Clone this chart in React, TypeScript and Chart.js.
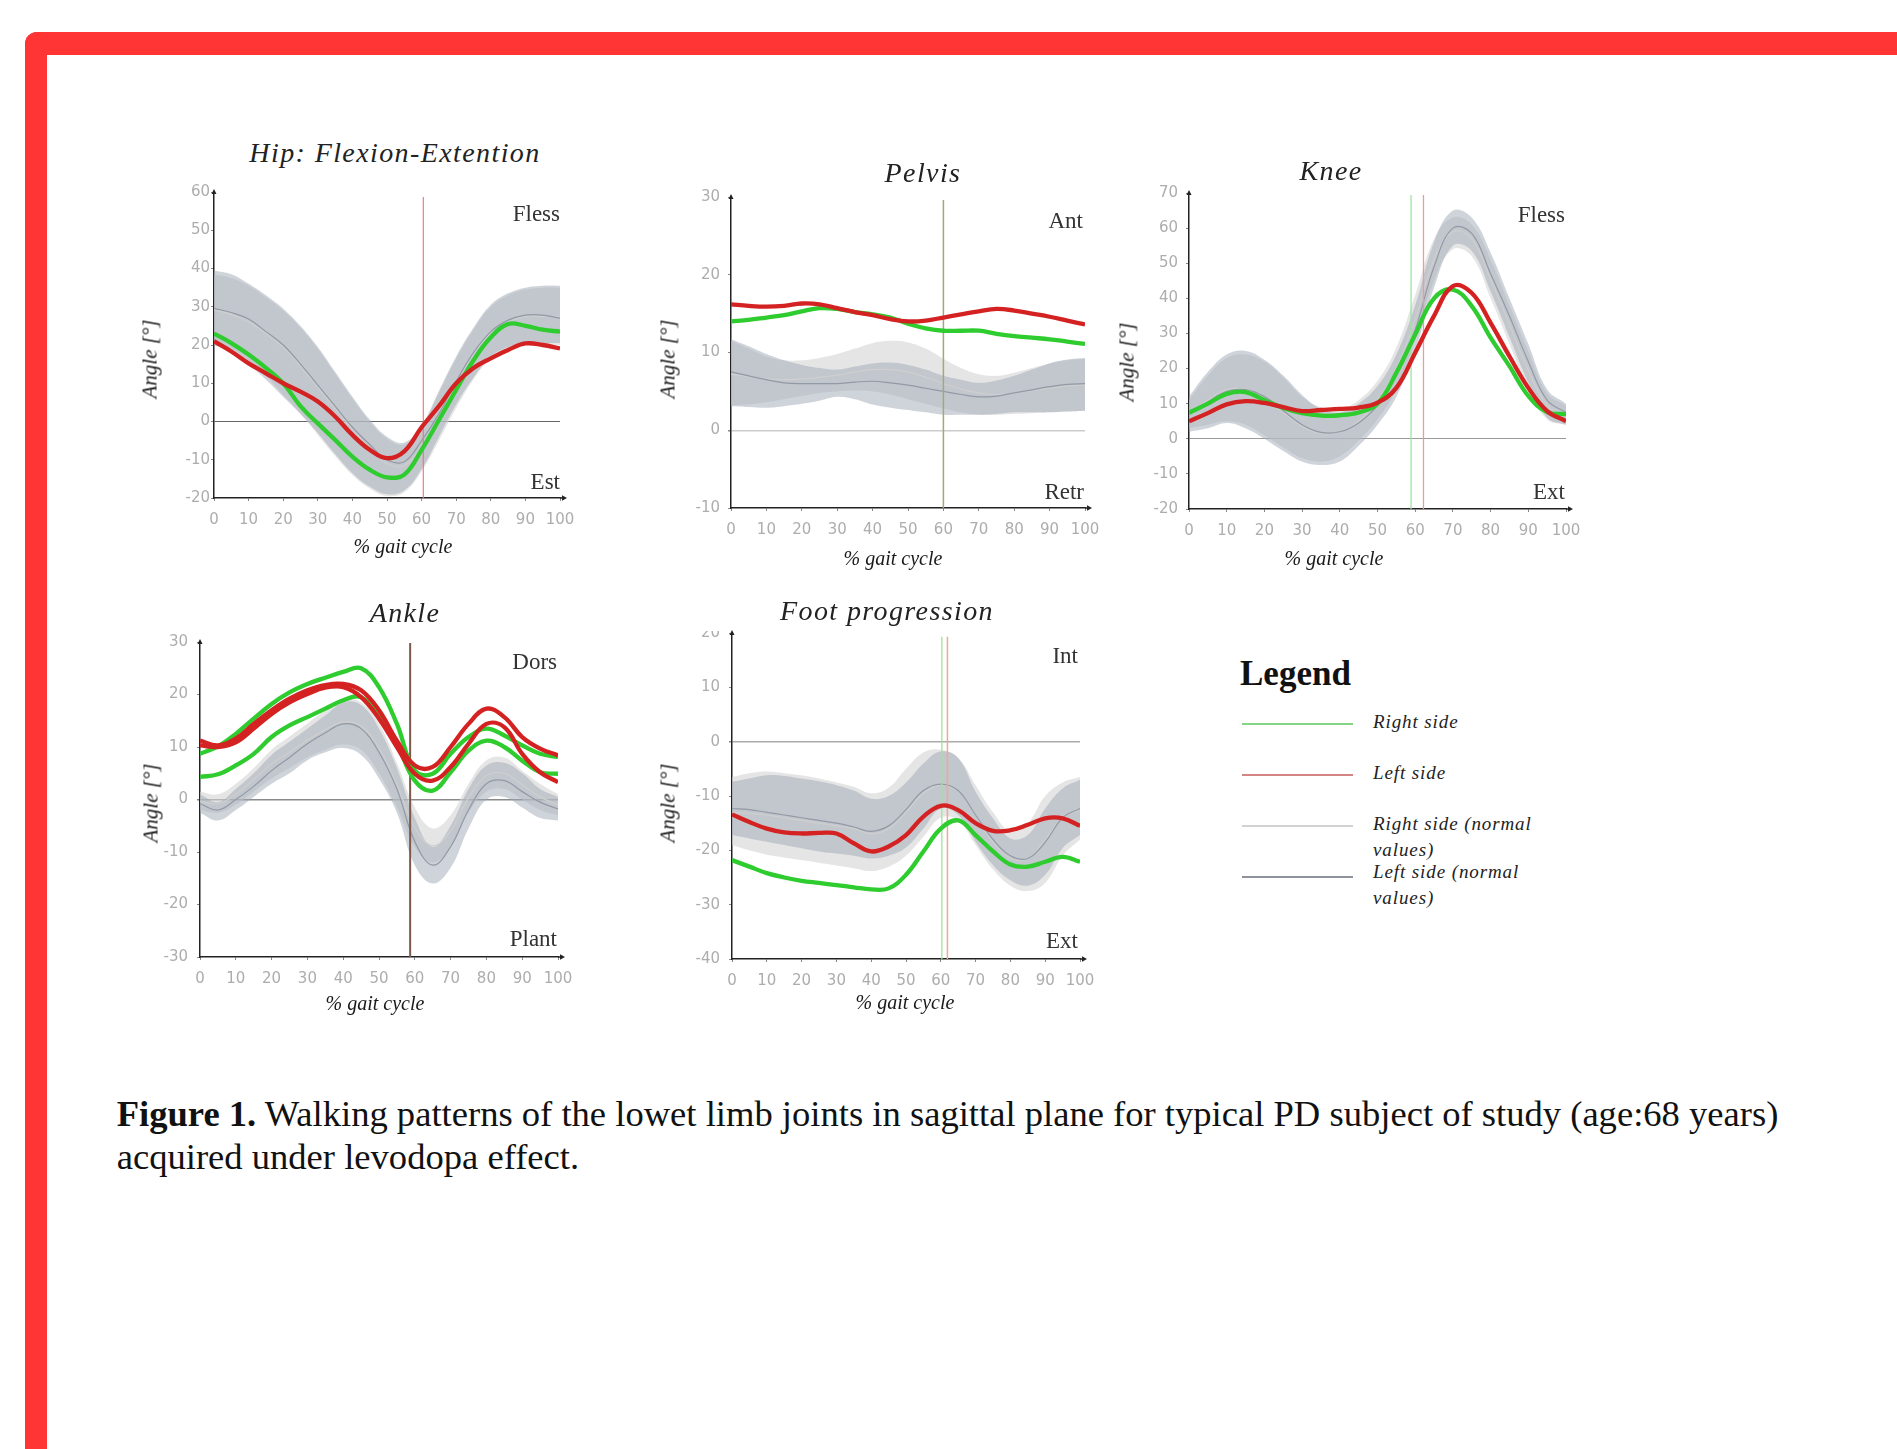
import React, { useEffect, useRef } from "react";
import { Chart, registerables } from "chart.js";

Chart.register(...registerables);

// ---------- shared axis data ----------
const GAIT_PCT = [0, 5, 10, 15, 20, 25, 30, 35, 40, 45, 50, 55, 60, 65, 70, 75, 80, 85, 90, 95, 100];
const X_RANGE = [0, 100];
const X_TICK_STEP = 10;
const Y_TICK_STEP = 10;

// ---------- Hip ----------
const HIP_Y_RANGE = [-20, 60];
const HIP_RIGHT = [23, 20.5, 17.5, 14, 10, 4, -0.5, -4.8, -9.2, -12.6, -14.6, -13.9, -7.4, 0.4, 8.3, 16, 22, 25.5, 25, 24, 23.5];
const HIP_LEFT = [21, 18.3, 15.2, 12.6, 10, 7.8, 5.2, 1.3, -3.5, -7.4, -9.6, -7.8, -1.5, 4, 10, 14, 16.5, 18.7, 20.4, 20, 19.1];
const HIP_NORM_LEFT_MEAN = [29.6, 28.5, 26.8, 23.5, 20, 15, 9.5, 4, -1.5, -6, -10, -10.5, -5, 2, 10.5, 18, 23.5, 26.5, 27.8, 27.8, 27];
const HIP_NORM_LEFT_UPPER = [39.5, 38.5, 36, 33, 29.5, 25, 19.5, 13, 6.5, 0.5, -4, -5.5, -1, 8, 17, 24.5, 30.5, 33.5, 35, 35.5, 35.5];
const HIP_NORM_LEFT_LOWER = [20, 18, 15, 11, 6.5, 2, -3, -8.5, -13.5, -17, -19, -18, -12.5, -4, 4.5, 11.5, 17, 19.5, 20.5, 20.5, 20.5];
const HIP_NORM_RIGHT_MEAN = [29.2, 28, 26, 23, 19.5, 14.5, 9, 3.5, -2, -7, -11, -11.5, -6.5, 1.5, 10, 17.5, 23, 26, 27.5, 27.5, 27.5];
const HIP_NORM_RIGHT_UPPER = [38.5, 37.5, 35.5, 32.5, 29, 24.5, 19, 12.5, 6, 0, -4.5, -6, -1.5, 7.5, 16.5, 24, 30, 33, 34.5, 35, 35];
const HIP_NORM_RIGHT_LOWER = [21, 19, 16, 12, 7, 2, -3.5, -9, -14, -17.5, -19.5, -18.5, -13, -5, 3.5, 11, 16.5, 19, 20, 20, 20];
const HIP_TOE_OFF = [60.5];

// ---------- Pelvis ----------
const PELVIS_Y_RANGE = [-10, 30];
const PELVIS_RIGHT = [14, 14.2, 14.5, 14.8, 15.3, 15.7, 15.6, 15.2, 14.9, 14.5, 13.7, 13.1, 12.8, 12.8, 12.8, 12.4, 12.1, 11.9, 11.7, 11.4, 11.1];
const PELVIS_LEFT = [16.2, 16, 15.9, 16, 16.3, 16.2, 15.7, 15.2, 14.8, 14.3, 14, 14.1, 14.5, 14.9, 15.3, 15.6, 15.4, 15, 14.6, 14.1, 13.6];
const PELVIS_NORM_LEFT_MEAN = [7.5, 7, 6.5, 6.1, 6, 6, 6, 6.2, 6.3, 6.1, 5.8, 5.4, 5, 4.6, 4.3, 4.4, 4.8, 5.2, 5.6, 5.9, 6];
const PELVIS_NORM_LEFT_UPPER = [11.7, 10.8, 9.8, 9, 8.4, 8, 7.8, 8.2, 8.6, 8.7, 8.4, 7.8, 7, 6.5, 6.1, 6.4, 7, 7.8, 8.6, 9.1, 9.3];
const PELVIS_NORM_LEFT_LOWER = [3.1, 3, 2.9, 3.1, 3.4, 3.8, 4.3, 4, 3.3, 2.9, 2.6, 2.3, 2, 2, 2, 2.1, 2.3, 2.3, 2.3, 2.4, 2.5];
const PELVIS_NORM_RIGHT_MEAN = [7.2, 6.9, 6.6, 6.5, 6.6, 6.8, 7.1, 7.5, 7.8, 7.8, 7.5, 6.8, 6, 5.3, 4.8, 4.6, 4.8, 5.1, 5.4, 5.7, 5.8];
const PELVIS_NORM_RIGHT_UPPER = [11.5, 10.5, 9.5, 9, 9, 9.3, 9.8, 10.5, 11.2, 11.5, 11.3, 10.5, 9.2, 8, 7.2, 7, 7.4, 8, 8.6, 9, 9.2];
const PELVIS_NORM_RIGHT_LOWER = [3.2, 3.3, 3.6, 4, 4.4, 4.8, 5, 5.1, 5, 4.6, 4, 3.4, 2.8, 2.3, 2, 2, 2.1, 2.2, 2.3, 2.4, 2.5];
const PELVIS_TOE_OFF = [60];

// ---------- Knee ----------
const KNEE_Y_RANGE = [-20, 70];
const KNEE_RIGHT = [7.4, 10, 12.8, 13.3, 11, 8.8, 7.3, 6.6, 6.7, 7.5, 10, 18.8, 29.7, 40, 42.5, 37.8, 28.8, 20.7, 12.2, 7.6, 7];
const KNEE_LEFT = [5, 7.3, 9.8, 10.7, 10.2, 9, 7.9, 8.2, 8.5, 8.9, 10.3, 14.5, 24.5, 35, 43.5, 41.5, 33, 23.5, 14.5, 7.9, 5];
const KNEE_NORM_LEFT_MEAN = [7, 10.5, 13.5, 14, 12, 8, 4, 1.8, 2, 4.5, 9.5, 18, 31, 49, 60, 58.5, 47, 35, 22, 11, 7.5];
const KNEE_NORM_LEFT_UPPER = [12, 19, 24, 25, 22.5, 18, 12.5, 8.5, 7.5, 10, 15, 24, 38, 56, 65, 63, 53, 40, 27, 14, 10];
const KNEE_NORM_LEFT_LOWER = [2, 3, 4.5, 3, 0, -3.5, -6.5, -7.5, -6.5, -2, 4, 12, 25, 43, 55, 53.5, 42, 29, 16, 6, 4];
const KNEE_NORM_RIGHT_MEAN = [7, 11, 14, 14, 11.5, 7.5, 3.5, 1.5, 2, 5, 11, 20, 34, 51, 59, 57, 45.5, 32.5, 19.5, 9.5, 6.5];
const KNEE_NORM_RIGHT_UPPER = [11, 18, 23, 24, 22, 17.5, 12, 9, 8.5, 11, 16.5, 26, 41, 57, 63, 61, 51, 38, 25, 13, 9.5];
const KNEE_NORM_RIGHT_LOWER = [3, 4, 5, 4, 1, -2.5, -5.5, -6.5, -5, -0.5, 5.5, 14, 28, 45, 54, 52, 40, 27, 14, 5.5, 4];
const KNEE_TOE_OFF_RIGHT = [58.9];
const KNEE_TOE_OFF_LEFT = [62.2];

// ---------- Ankle ----------
const ANKLE_Y_RANGE = [-30, 30];
const ANKLE_RIGHT_A = [8.7, 10.1, 12.5, 15.4, 18.2, 20.4, 22, 23.2, 24.3, 25, 21.4, 14.4, 5.5, 4.9, 8.7, 11.9, 13.5, 12.2, 10.3, 8.7, 8.1];
const ANKLE_RIGHT_B = [4.3, 4.8, 6.5, 8.7, 11.9, 14.1, 15.7, 17.3, 18.9, 19.5, 15.7, 10.6, 3.6, 1.7, 5.2, 9.3, 11.2, 10, 7.4, 5.2, 4.9];
const ANKLE_LEFT_A = [11.2, 10.3, 11.6, 14.4, 17, 19.2, 20.8, 21.8, 22, 20.8, 17, 11.2, 6.5, 6.2, 10, 14.4, 17.3, 15.7, 11.9, 9.7, 8.4];
const ANKLE_LEFT_B = [10.3, 10, 10.9, 13.5, 16.3, 18.5, 20.1, 21.3, 21.4, 19.5, 15.4, 10, 4.9, 3.6, 6.2, 10.6, 14.4, 13.8, 8.7, 5.2, 3.3];
const ANKLE_NORM_LEFT_MEAN = [-0.8, -2, 0, 2.5, 5.5, 8, 10.6, 12.7, 14.4, 13.5, 9, 2, -8, -12.5, -9, -2, 3, 3.6, 1.5, -0.5, -1.8];
const ANKLE_NORM_LEFT_UPPER = [1, -0.5, 2, 5, 8.5, 11, 13.5, 16, 18.5, 18, 13.5, 6, -3.5, -9, -5, 2, 6.5, 7, 5, 2, 0.5];
const ANKLE_NORM_LEFT_LOWER = [-2.5, -4, -2, 0.5, 3, 5, 7.5, 9, 9.8, 8.5, 4, -2.5, -12.5, -16, -13, -5.5, 0, 0.5, -1.5, -3.5, -4];
const ANKLE_NORM_RIGHT_MEAN = [-0.3, -0.8, 1, 3.8, 6.8, 9, 11.3, 13.3, 14.8, 14, 9.8, 2.8, -5.3, -8.8, -6, 0.3, 4.5, 5, 2.8, 0.5, -1];
const ANKLE_NORM_RIGHT_UPPER = [1.5, 1, 3, 6, 9.5, 12, 14.5, 17, 19, 18.5, 14.5, 7, -1.5, -5.5, -3, 3, 7.5, 8, 5.5, 3, 1];
const ANKLE_NORM_RIGHT_LOWER = [-2, -2.5, -1, 1.5, 4, 6, 8, 9.5, 10.5, 9.5, 5, -1.5, -9, -12, -9, -2.5, 1.5, 2, 0, -2, -3];
const ANKLE_TOE_OFF = [58.7];

// ---------- Foot progression ----------
const FOOT_Y_RANGE = [-40, 20];
const FOOT_RIGHT = [-21.8, -23, -24.2, -25, -25.6, -26, -26.4, -26.8, -27.2, -27, -24.5, -20.2, -16, -14.5, -17.2, -20.2, -22.6, -23, -22.1, -21.2, -22.1];
const FOOT_LEFT = [-13.4, -14.8, -16, -16.7, -16.9, -16.8, -16.9, -18.7, -20.2, -19.3, -17.2, -13.8, -11.8, -12.6, -15, -16.4, -16.3, -15.3, -14.1, -14.1, -15.5];
const FOOT_NORM_LEFT_MEAN = [-12.3, -12.5, -13, -13.5, -14, -14.5, -15, -15.7, -16.5, -15.5, -12.5, -9, -7.8, -9, -13.5, -18, -21, -21.5, -18.5, -14, -12.3];
const FOOT_NORM_LEFT_UPPER = [-7.4, -6.8, -6.2, -6.3, -6.8, -7.3, -8, -9, -10.5, -10, -7.5, -4, -1.8, -3, -9.2, -14.1, -17.8, -17.2, -12.3, -8.6, -7];
const FOOT_NORM_LEFT_LOWER = [-17.2, -17.8, -18.4, -19, -19.6, -20.2, -20.6, -21, -21.5, -21, -19.5, -16, -12.3, -13.5, -18.4, -22.7, -25.5, -26.5, -24.5, -19.6, -17.2];
const FOOT_NORM_RIGHT_MEAN = [-13, -13.2, -13.5, -14, -14.5, -15, -15.5, -16, -17, -16, -13, -9.5, -8, -9, -13.5, -18.5, -21.5, -21.5, -18, -14, -12.5];
const FOOT_NORM_RIGHT_UPPER = [-6.5, -5.8, -5.5, -5.8, -6.2, -6.8, -7.5, -8.3, -9.5, -8.5, -5, -2, -1.5, -3, -8, -13, -16.5, -15, -10, -7.5, -6.5];
const FOOT_NORM_RIGHT_LOWER = [-19, -20, -20.8, -21.3, -21.8, -22.3, -22.8, -23.3, -23.8, -23, -21, -17.5, -14, -14.5, -19, -23.5, -26.5, -27.5, -26, -21, -18];
const FOOT_TOE_OFF_RIGHT = [60.3];
const FOOT_TOE_OFF_LEFT = [61.9];

// ---------- legend / caption text ----------
const LEGEND_TITLE = "Legend";
const LEGEND_LABELS = [["Right side"], ["Left side"], ["Right side (normal", "values)"], ["Left side (normal", "values)"]];
const CAPTION_BOLD = "Figure 1.";
const CAPTION_LINE1 = " Walking patterns of the lowet limb joints in sagittal plane for typical PD subject of study (age:68 years)";
const CAPTION_LINE2 = "acquired under levodopa effect.";

// ---------- styles ----------
const RIGHT_COLOR = "#2ecc2e";
const LEFT_COLOR = "#d42222";
const NORM_RIGHT_LINE = "#cfcfcf";
const NORM_LEFT_LINE = "#939aa6";
const NORM_RIGHT_BAND = "rgba(212,212,212,0.6)";
const NORM_LEFT_BAND = "rgba(160,168,182,0.5)";
const CLEAR = "rgba(0,0,0,0)";
const SERIF = '"Liberation Serif", "Times New Roman", serif';

const PANELS = [
  {
    key: "hip",
    area: { L: 214, T: 192, R: 560, B: 498 },
    yRange: HIP_Y_RANGE,
    right: [HIP_RIGHT],
    left: [HIP_LEFT],
    normL: [HIP_NORM_LEFT_UPPER, HIP_NORM_LEFT_LOWER, HIP_NORM_LEFT_MEAN],
    normR: [HIP_NORM_RIGHT_UPPER, HIP_NORM_RIGHT_LOWER, HIP_NORM_RIGHT_MEAN],
    markers: [{ values: HIP_TOE_OFF, color: "rgba(236,120,120,0.9)", width: 1.3 }],
    markerGap: 1.3,
    zero: { color: "#666", width: 1 },
    yPad: 1,
    title: { text: "Hip: Flexion-Extention", x: 395, y: 153 },
    xTitle: { x: 403, y: 546 },
    yTitle: { x: 150, y: 359 },
    hi: { text: "Fless", x: 560, y: 212.5 },
    lo: { text: "Est", x: 560, y: 480.7 },
  },
  {
    key: "pelvis",
    area: { L: 731, T: 197, R: 1085, B: 508 },
    yRange: PELVIS_Y_RANGE,
    right: [PELVIS_RIGHT],
    left: [PELVIS_LEFT],
    normL: [PELVIS_NORM_LEFT_UPPER, PELVIS_NORM_LEFT_LOWER, PELVIS_NORM_LEFT_MEAN],
    normR: [PELVIS_NORM_RIGHT_UPPER, PELVIS_NORM_RIGHT_LOWER, PELVIS_NORM_RIGHT_MEAN],
    markers: [{ values: PELVIS_TOE_OFF, color: "#a6a67c", width: 1.5 }],
    markerGap: 0.4,
    zero: { color: "#cccccc", width: 1.5 },
    yPad: 8,
    title: { text: "Pelvis", x: 923, y: 172.5 },
    xTitle: { x: 893, y: 558 },
    yTitle: { x: 668, y: 359 },
    hi: { text: "Ant", x: 1083, y: 219.7 },
    lo: { text: "Retr", x: 1084, y: 490.7 },
  },
  {
    key: "knee",
    area: { L: 1189, T: 193, R: 1566, B: 509 },
    yRange: KNEE_Y_RANGE,
    right: [KNEE_RIGHT],
    left: [KNEE_LEFT],
    normL: [KNEE_NORM_LEFT_UPPER, KNEE_NORM_LEFT_LOWER, KNEE_NORM_LEFT_MEAN],
    normR: [KNEE_NORM_RIGHT_UPPER, KNEE_NORM_RIGHT_LOWER, KNEE_NORM_RIGHT_MEAN],
    markers: [
      { values: KNEE_TOE_OFF_RIGHT, color: "#9fe39f", width: 1.3 },
      { values: KNEE_TOE_OFF_LEFT, color: "#ec9a9a", width: 1.3 },
    ],
    markerGap: 0.6,
    zero: { color: "#9a9a9a", width: 1 },
    yPad: 8,
    title: { text: "Knee", x: 1331, y: 170.7 },
    xTitle: { x: 1334, y: 558 },
    yTitle: { x: 1127, y: 361.7 },
    hi: { text: "Fless", x: 1565, y: 214 },
    lo: { text: "Ext", x: 1565, y: 490.7 },
  },
  {
    key: "ankle",
    area: { L: 200, T: 642, R: 558, B: 957 },
    yRange: ANKLE_Y_RANGE,
    right: [ANKLE_RIGHT_A, ANKLE_RIGHT_B],
    left: [ANKLE_LEFT_A, ANKLE_LEFT_B],
    normL: [ANKLE_NORM_LEFT_UPPER, ANKLE_NORM_LEFT_LOWER, ANKLE_NORM_LEFT_MEAN],
    normR: [ANKLE_NORM_RIGHT_UPPER, ANKLE_NORM_RIGHT_LOWER, ANKLE_NORM_RIGHT_MEAN],
    markers: [{ values: ANKLE_TOE_OFF, color: "#7b5a4c", width: 2 }],
    markerGap: 0.2,
    zero: { color: "#8a8a8a", width: 1.5 },
    yPad: 9,
    title: { text: "Ankle", x: 405, y: 612.7 },
    xTitle: { x: 375, y: 1002.7 },
    yTitle: { x: 150.7, y: 803.3 },
    hi: { text: "Dors", x: 557, y: 660.7 },
    lo: { text: "Plant", x: 557, y: 938.3 },
  },
  {
    key: "foot",
    area: { L: 732, T: 633, R: 1080, B: 959 },
    yRange: FOOT_Y_RANGE,
    right: [FOOT_RIGHT],
    left: [FOOT_LEFT],
    normL: [FOOT_NORM_LEFT_UPPER, FOOT_NORM_LEFT_LOWER, FOOT_NORM_LEFT_MEAN],
    normR: [FOOT_NORM_RIGHT_UPPER, FOOT_NORM_RIGHT_LOWER, FOOT_NORM_RIGHT_MEAN],
    markers: [
      { values: FOOT_TOE_OFF_RIGHT, color: "#9fe39f", width: 1.3 },
      { values: FOOT_TOE_OFF_LEFT, color: "#f0a890", width: 1.5 },
    ],
    markerGap: 0.7,
    zero: { color: "#aaaaaa", width: 1.5 },
    yPad: 9,
    title: { text: "Foot progression", x: 887, y: 610.7 },
    xTitle: { x: 905, y: 1001.7 },
    yTitle: { x: 668, y: 803.3 },
    hi: { text: "Int", x: 1078, y: 655 },
    lo: { text: "Ext", x: 1078, y: 940 },
    coverTopTick: true,
  },
];

const pts = (arr: number[]) => arr.map((y, i) => ({ x: GAIT_PCT[i], y }));

function buildDatasets(p: any) {
  const ds: any[] = [];
  const line = (data: number[], color: string, width: number, order: number) => ({
    data: pts(data),
    borderColor: color,
    borderWidth: width,
    pointRadius: 0,
    tension: 0.4,
    fill: false,
    order,
  });
  p.left.forEach((s: number[]) => ds.push(line(s, LEFT_COLOR, 4.3, 0)));
  p.right.forEach((s: number[]) => ds.push(line(s, RIGHT_COLOR, 4.3, 1)));
  p.markers.forEach((m: any) =>
    m.values.forEach((v: number) =>
      ds.push({
        data: [
          { x: v, y: p.yRange[0] },
          { x: v, y: p.yRange[1] - p.markerGap },
        ],
        borderColor: m.color,
        borderWidth: m.width,
        pointRadius: 0,
        tension: 0,
        fill: false,
        order: 2,
      })
    )
  );
  ds.push(line(p.normL[2], NORM_LEFT_LINE, 1.2, 3));
  ds.push(line(p.normR[2], NORM_RIGHT_LINE, 1.2, 4));
  // left normal band (darker)
  ds.push({ ...line(p.normL[0], CLEAR, 0, 5), fill: "+1", backgroundColor: NORM_LEFT_BAND });
  ds.push({ ...line(p.normL[1], CLEAR, 0, 5) });
  // right normal band (lighter)
  ds.push({ ...line(p.normR[0], CLEAR, 0, 6), fill: "+1", backgroundColor: NORM_RIGHT_BAND });
  ds.push({ ...line(p.normR[1], CLEAR, 0, 6) });
  return ds;
}

const axisArrows = {
  id: "axisArrows",
  afterDraw(chart: any) {
    const { ctx, chartArea: a } = chart;
    ctx.save();
    ctx.strokeStyle = "#222";
    ctx.fillStyle = "#222";
    ctx.lineWidth = 1.5;
    ctx.beginPath();
    ctx.moveTo(a.right, a.bottom);
    ctx.lineTo(a.right + 4, a.bottom);
    ctx.stroke();
    ctx.beginPath();
    ctx.moveTo(a.right + 7, a.bottom);
    ctx.lineTo(a.right + 2, a.bottom - 2.8);
    ctx.lineTo(a.right + 2, a.bottom + 2.8);
    ctx.closePath();
    ctx.fill();
    ctx.beginPath();
    ctx.moveTo(a.left, a.top - 3);
    ctx.lineTo(a.left - 2.5, a.top + 2);
    ctx.lineTo(a.left + 2.5, a.top + 2);
    ctx.closePath();
    ctx.fill();
    ctx.restore();
  },
};

function Txt(props: any) {
  const { text, x, y, size, anchor = "center", italic, bold, color = "#222", rotate, ls = 0, bg } = props;
  const tx = anchor === "right" ? "-100%" : anchor === "left" ? "0%" : "-50%";
  return (
    <div
      style={{
        position: "absolute",
        left: x,
        top: y,
        transform: `translate(${tx}, -50%)${rotate ? " rotate(-90deg)" : ""}`,
        fontFamily: SERIF,
        fontSize: size,
        fontStyle: italic ? "italic" : "normal",
        fontWeight: bold ? 700 : 400,
        color,
        lineHeight: 1,
        whiteSpace: "nowrap",
        letterSpacing: ls,
        background: bg,
      }}
    >
      {text}
    </div>
  );
}

const PAD_L = 70;
const PAD_T = 20;
const PAD_R = 30;
const PAD_B = 45;

function Panel({ p }: { p: any }) {
  const ref = useRef<HTMLCanvasElement>(null);
  const { L, T, R, B } = p.area;
  const w = R - L + PAD_L + PAD_R;
  const h = B - T + PAD_T + PAD_B;

  useEffect(() => {
    const tickFont = { family: '"DejaVu Sans", sans-serif', size: 15 };
    const chart = new Chart(ref.current as HTMLCanvasElement, {
      type: "line",
      data: { datasets: buildDatasets(p) },
      options: {
        animation: false,
        responsive: false,
        maintainAspectRatio: false,
        devicePixelRatio: 1,
        events: [],
        layout: { padding: { left: 10, top: PAD_T, right: PAD_R, bottom: 5 } },
        plugins: { legend: { display: false }, tooltip: { enabled: false }, title: { display: false } },
        scales: {
          x: {
            type: "linear",
            min: X_RANGE[0],
            max: X_RANGE[1],
            afterFit: (s: any) => {
              s.height = PAD_B - 5;
            },
            ticks: { stepSize: X_TICK_STEP, autoSkip: false, maxRotation: 0, color: "#adadad", font: tickFont, padding: 10 },
            grid: { drawOnChartArea: false, drawTicks: true, tickLength: 3, tickColor: "#888" },
            border: { display: true, color: "#222", width: 1.5 },
          },
          y: {
            type: "linear",
            min: p.yRange[0],
            max: p.yRange[1],
            afterFit: (s: any) => {
              s.width = PAD_L - 10;
            },
            ticks: { stepSize: Y_TICK_STEP, autoSkip: false, color: "#adadad", font: tickFont, padding: p.yPad },
            grid: {
              drawOnChartArea: true,
              drawTicks: true,
              tickLength: 3,
              tickColor: "#888",
              color: (c: any) => (c.tick && c.tick.value === 0 ? p.zero.color : CLEAR),
              lineWidth: (c: any) => (c.tick && c.tick.value === 0 ? p.zero.width : 1),
            },
            border: { display: true, color: "#222", width: 1.5 },
          },
        },
      } as any,
      plugins: [axisArrows],
    });
    return () => chart.destroy();
  }, []);

  return (
    <>
      <canvas
        ref={ref}
        width={w}
        height={h}
        style={{ position: "absolute", left: L - PAD_L, top: T - PAD_T, width: w, height: h }}
      />
      {p.coverTopTick ? (
        <div style={{ position: "absolute", left: L - 32, top: T - 20, width: 28, height: 18, background: "#fff" }} />
      ) : null}
      <Txt text={p.title.text} x={p.title.x} y={p.title.y} size={28} italic ls={1.4} />
      <Txt text="% gait cycle" x={p.xTitle.x} y={p.xTitle.y} size={20} italic color="#1a1a1a" />
      <Txt text="Angle [°]" x={p.yTitle.x} y={p.yTitle.y} size={21} italic rotate color="#1a1a1a" />
      <Txt text={p.hi.text} x={p.hi.x} y={p.hi.y} size={23} anchor="right" color="#333" />
      <Txt text={p.lo.text} x={p.lo.x} y={p.lo.y} size={23} anchor="right" color="#333" />
    </>
  );
}

const LEGEND_COLORS = ["#86d486", "#d48484", "#d2d2d2", "#8e939b"];

export default function App() {
  useEffect(() => {
    document.body.style.margin = "0";
    document.body.style.overflow = "hidden";
  }, []);

  const legendLineY = [724, 775, 825.7, 877.3];
  const legendTextY = [[721], [771.7], [822.7, 849.3], [870.7, 897.3]];

  return (
    <div
      style={{
        position: "absolute",
        left: 0,
        top: 0,
        width: 1897,
        height: 1449,
        overflow: "hidden",
        background: "#fff",
        fontFamily: SERIF,
      }}
    >
      <div
        style={{
          position: "absolute",
          left: 25,
          top: 32,
          width: 1900,
          height: 1450,
          borderLeft: "22px solid #ff3535",
          borderTop: "23px solid #ff3535",
          borderTopLeftRadius: 12,
          boxSizing: "border-box",
        }}
      />
      {PANELS.map((p) => (
        <Panel key={p.key} p={p} />
      ))}

      <Txt text={LEGEND_TITLE} x={1240} y={673} size={35} bold anchor="left" color="#111" />
      {LEGEND_LABELS.map((lines, i) => (
        <React.Fragment key={i}>
          <div
            style={{
              position: "absolute",
              left: 1242,
              top: legendLineY[i] - 1,
              width: 111,
              height: 2,
              background: LEGEND_COLORS[i],
            }}
          />
          {lines.map((t, j) => (
            <Txt key={j} text={t} x={1373} y={legendTextY[i][j]} size={19} italic ls={0.9} anchor="left" color="#222" />
          ))}
        </React.Fragment>
      ))}

      <div
        style={{
          position: "absolute",
          left: 116.7,
          top: 1093.3,
          fontFamily: SERIF,
          fontSize: 36.6,
          lineHeight: "42.3px",
          color: "#111",
          whiteSpace: "nowrap",
        }}
      >
        <div>
          <b>{CAPTION_BOLD}</b>
          {CAPTION_LINE1}
        </div>
        <div>{CAPTION_LINE2}</div>
      </div>
    </div>
  );
}
